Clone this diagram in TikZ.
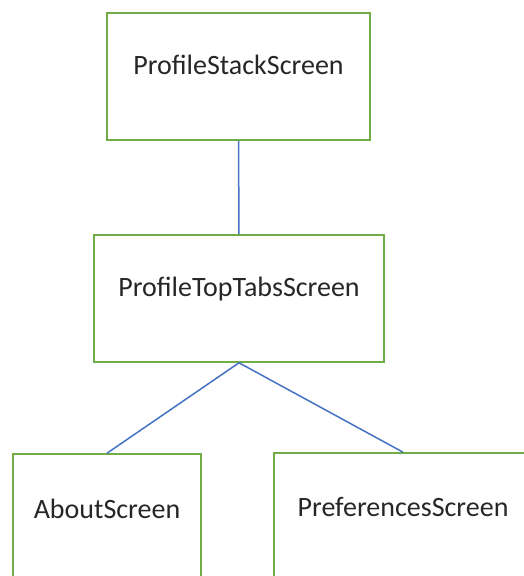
\documentclass[tikz,border=0pt]{standalone}
\usepackage{fontspec}
\setmainfont{Carlito}
\usetikzlibrary{calc, positioning}
\definecolor{boxgreen}{HTML}{70AD47}
\definecolor{linkblue}{HTML}{4472C4}

\begin{document}
\begin{tikzpicture}[x=1pt,y=-1pt,
  screen/.style={draw=boxgreen,line width=1.6pt,minimum height=127pt,inner sep=0pt},
  title/.style={font=\fontsize{28}{32}\selectfont,text=black!85,inner sep=0pt},
  link/.style={draw=linkblue,line width=1.5pt}]
\useasboundingbox (0,0) rectangle (523,576);
\node[screen,minimum width=263pt] (stack) at (238.5,76.5) {};
\node[screen,minimum width=290pt] (tabs) at (239,298.5) {};
\node[screen,minimum width=188pt] (about) at (107,517.5) {};
\node[screen,minimum width=258pt] (prefs) at (403,516.5) {};
\node[title] (stackT) at ($ (stack.center)+(0,-12) $) {ProfileStackScreen};
\node[title] (tabsT) at ($ (tabs.center)+(0,-9) $) {ProfileTopTabsScreen};
\node[title] (aboutT) at ($ (about.center)+(0,-9) $) {AboutScreen};
\node[title] (prefsT) at ($ (prefs.center)+(0,-10) $) {PreferencesScreen};
\draw[link] (stack.south) -- (tabs.north);
\foreach \child in {about,prefs}{
  \draw[link] (tabs.south) -- (\child.north);
}
\end{tikzpicture}
\end{document}
